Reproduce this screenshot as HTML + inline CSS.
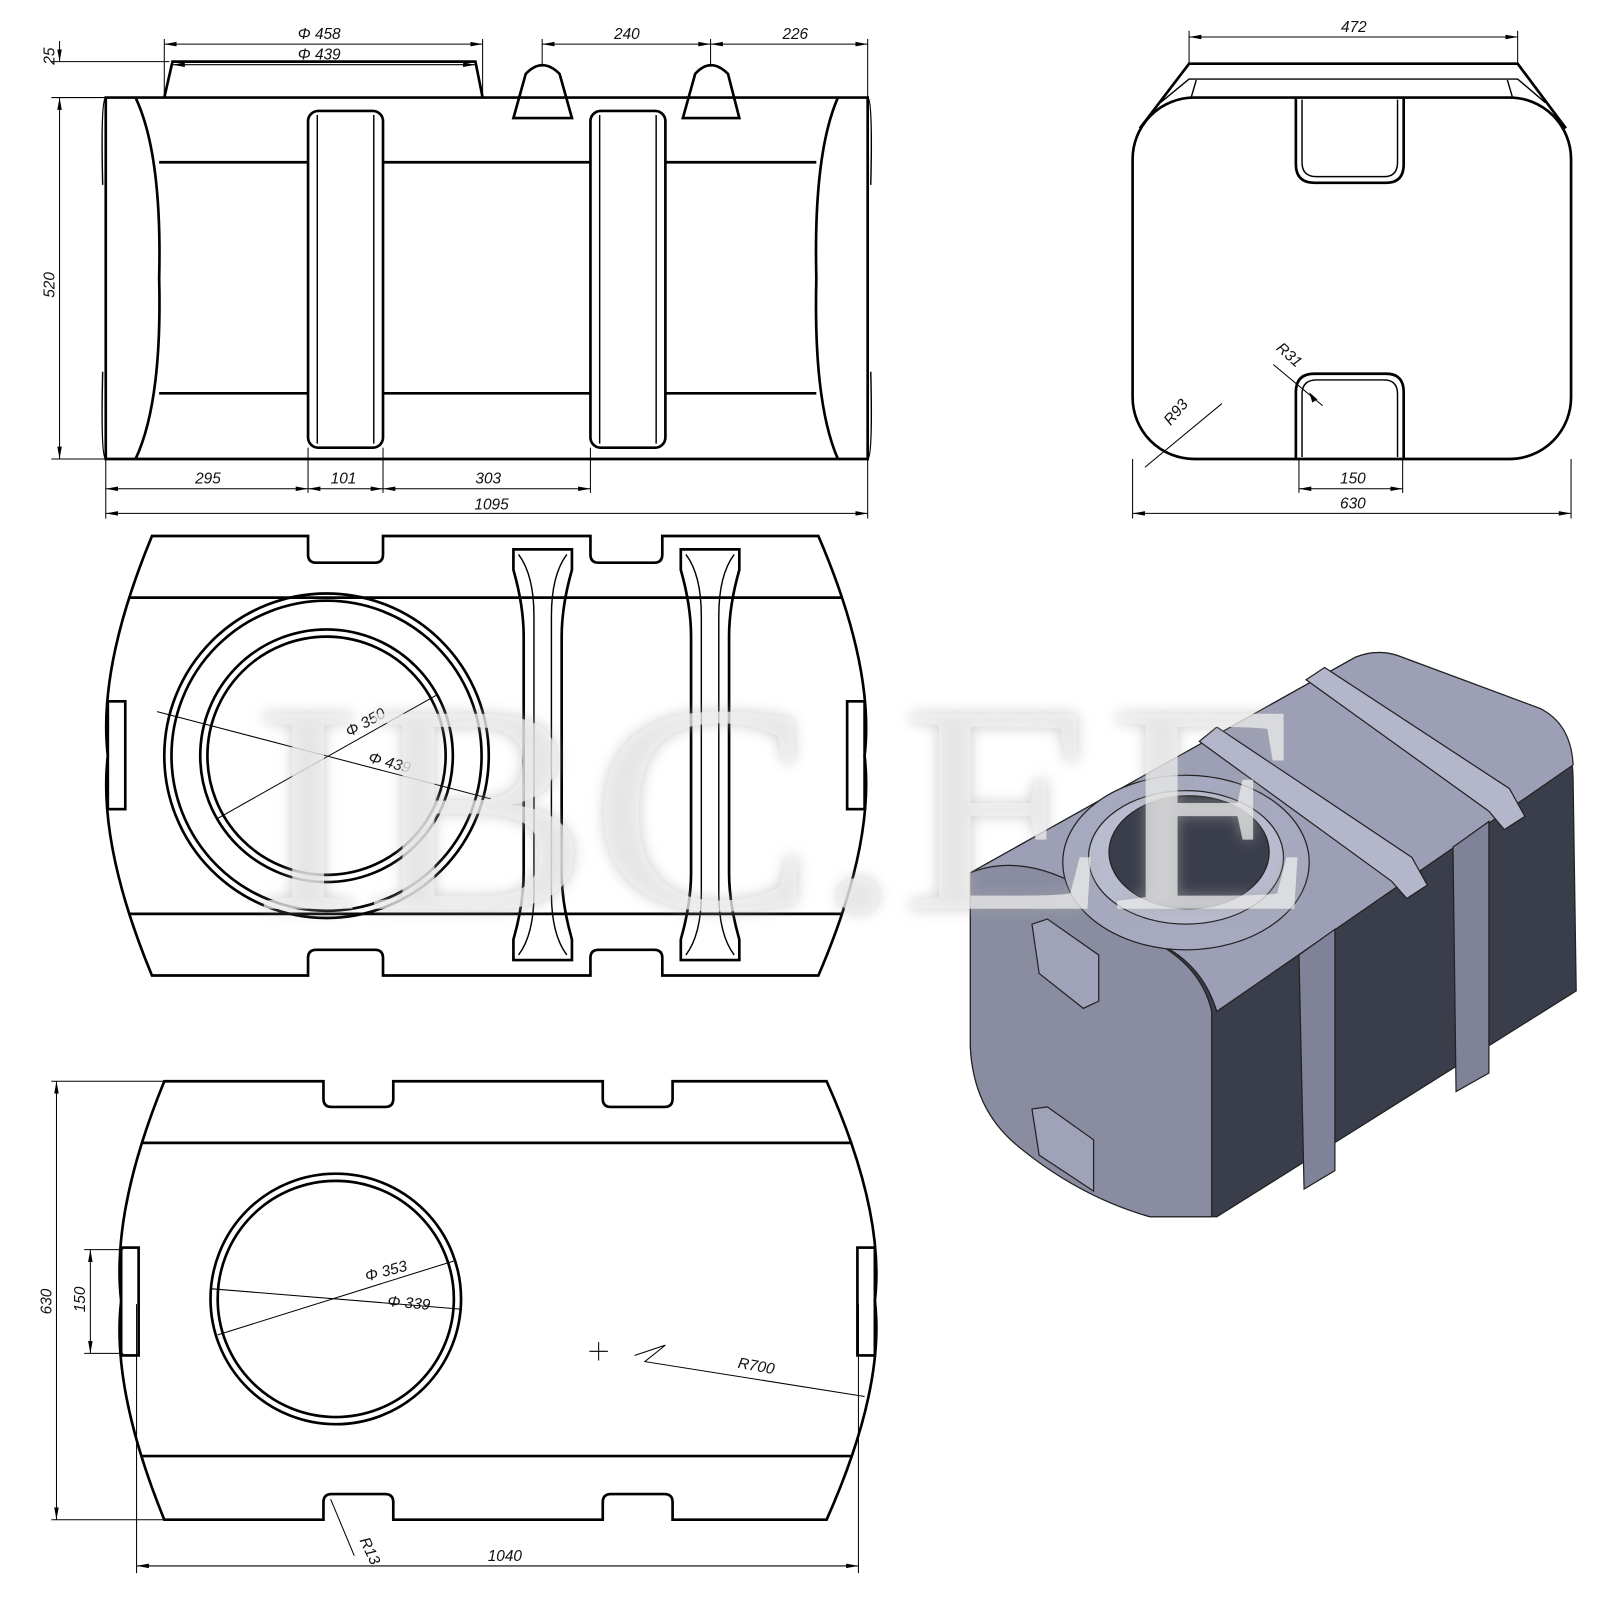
<!DOCTYPE html>
<html><head><meta charset="utf-8"><style>
html,body{margin:0;padding:0;background:#fff}
svg{display:block}
text{font-family:"Liberation Sans",sans-serif;font-style:italic;font-size:15px;fill:#111}
.o{fill:none;stroke:#000;stroke-width:2.6}
.t{fill:none;stroke:#000;stroke-width:1.4}
.d{fill:none;stroke:#000;stroke-width:1}
</style></head><body>
<svg width="1607" height="1607" viewBox="0 0 1565 1565" xmlns="http://www.w3.org/2000/svg">
<defs>
<marker id="a" markerWidth="12" markerHeight="6" refX="12" refY="3" orient="auto-start-reverse" markerUnits="userSpaceOnUse"><path d="M0,0.8 L12,3 L0,5.2z" fill="#000"/></marker>
<filter id="bl"><feGaussianBlur stdDeviation="7"/></filter>
</defs>

<!-- ========== SIDE VIEW ========== -->
<path class="o" d="M103,95 H845 V447 H103 Z"/>
<path class="o" d="M132,95 Q158,150 155,271 Q158,392 132,447"/>
<path class="o" d="M816,95 Q792,150 795,271 Q792,392 816,447"/>
<path class="t" d="M103,95 Q98,97 100,180 M100,362 Q98,445 103,447"/>
<path class="t" d="M845,95 Q850,97 848,180 M848,362 Q850,445 845,447"/>
<line class="o" x1="155" y1="158" x2="300" y2="158"/><line class="o" x1="373" y1="158" x2="575" y2="158"/><line class="o" x1="648" y1="158" x2="795" y2="158"/>
<line class="o" x1="155" y1="383" x2="300" y2="383"/><line class="o" x1="373" y1="383" x2="575" y2="383"/><line class="o" x1="648" y1="383" x2="795" y2="383"/>
<rect class="o" x="300" y="108" width="73" height="328" rx="10"/>
<line class="t" x1="309" y1="112" x2="309" y2="432"/><line class="t" x1="364" y1="112" x2="364" y2="432"/>
<rect class="o" x="575" y="108" width="73" height="328" rx="10"/>
<line class="t" x1="584" y1="112" x2="584" y2="432"/><line class="t" x1="639" y1="112" x2="639" y2="432"/>
<path class="o" d="M160,95 L168,60 H463 L470,95"/>
<path class="o" d="M500,115 L512,72 Q528,55 545,72 L557,115 Z"/>
<path class="o" d="M665,115 L677,72 Q692,55 709,72 L720,115 Z"/>
<line class="d" x1="160" y1="38" x2="160" y2="95"/><line class="d" x1="470" y1="38" x2="470" y2="95"/>
<line class="d" x1="160" y1="43" x2="470" y2="43" marker-start="url(#a)" marker-end="url(#a)"/>
<text x="290" y="38">Φ 458</text>
<line class="d" x1="168" y1="63" x2="463" y2="63" marker-start="url(#a)" marker-end="url(#a)"/>
<text x="290" y="58">Φ 439</text>
<line class="d" x1="528" y1="38" x2="528" y2="65"/><line class="d" x1="692" y1="38" x2="692" y2="65"/><line class="d" x1="845" y1="38" x2="845" y2="95"/>
<line class="d" x1="528" y1="43" x2="692" y2="43" marker-start="url(#a)" marker-end="url(#a)"/>
<line class="d" x1="692" y1="43" x2="845" y2="43" marker-start="url(#a)" marker-end="url(#a)"/>
<text x="598" y="38">240</text><text x="762" y="38">226</text>
<line class="d" x1="50" y1="60" x2="165" y2="60"/><line class="d" x1="50" y1="95" x2="103" y2="95"/><line class="d" x1="50" y1="447" x2="103" y2="447"/>
<line class="d" x1="58" y1="40" x2="58" y2="60" marker-end="url(#a)"/>
<line class="d" x1="58" y1="95" x2="58" y2="447" marker-start="url(#a)" marker-end="url(#a)"/>
<text transform="translate(53,63) rotate(-90)">25</text>
<text transform="translate(53,290) rotate(-90)">520</text>
<line class="d" x1="103" y1="447" x2="103" y2="505"/><line class="d" x1="300" y1="436" x2="300" y2="480"/><line class="d" x1="373" y1="436" x2="373" y2="480"/><line class="d" x1="575" y1="436" x2="575" y2="480"/><line class="d" x1="845" y1="447" x2="845" y2="505"/>
<line class="d" x1="103" y1="476" x2="300" y2="476" marker-start="url(#a)" marker-end="url(#a)"/>
<line class="d" x1="300" y1="476" x2="373" y2="476" marker-start="url(#a)" marker-end="url(#a)"/>
<line class="d" x1="373" y1="476" x2="575" y2="476" marker-start="url(#a)" marker-end="url(#a)"/>
<line class="d" x1="103" y1="500" x2="845" y2="500" marker-start="url(#a)" marker-end="url(#a)"/>
<text x="190" y="471">295</text><text x="322" y="471">101</text><text x="463" y="471">303</text><text x="462" y="496">1095</text>

<!-- ========== END VIEW ========== -->
<rect class="o" x="1103" y="95" width="427" height="352" rx="60"/>
<path class="o" d="M1110,125 L1158,62 H1478 L1525,125"/>
<path class="t" d="M1130,100 L1158,77 H1478 L1505,100"/>
<path class="t" d="M1160,95 L1165,78 M1473,95 L1468,78"/>
<path class="o" d="M1262,95 V160 Q1262,178 1280,178 H1350 Q1367,178 1367,160 V95"/>
<path class="t" d="M1268,97 V158 Q1268,172 1282,172 H1348 Q1361,172 1361,158 V97"/>
<path class="o" d="M1262,447 V382 Q1262,364 1280,364 H1350 Q1367,364 1367,382 V447"/>
<path class="t" d="M1268,445 V384 Q1268,370 1282,370 H1348 Q1361,370 1361,384 V445"/>
<line class="d" x1="1158" y1="30" x2="1158" y2="62"/><line class="d" x1="1478" y1="30" x2="1478" y2="62"/>
<line class="d" x1="1158" y1="36" x2="1478" y2="36" marker-start="url(#a)" marker-end="url(#a)"/>
<text x="1306" y="31">472</text>
<line class="d" x1="1103" y1="447" x2="1103" y2="505"/><line class="d" x1="1530" y1="447" x2="1530" y2="505"/>
<line class="d" x1="1103" y1="500" x2="1530" y2="500" marker-start="url(#a)" marker-end="url(#a)"/>
<text x="1305" y="495">630</text>
<line class="d" x1="1265" y1="447" x2="1265" y2="480"/><line class="d" x1="1366" y1="447" x2="1366" y2="480"/>
<line class="d" x1="1265" y1="476" x2="1366" y2="476" marker-start="url(#a)" marker-end="url(#a)"/>
<text x="1305" y="471">150</text>
<line class="d" x1="1240" y1="355" x2="1288" y2="395"/><path d="M1275,382 L1283,389 L1278,392z" fill="#000"/>
<text transform="translate(1242,340) rotate(42)">R31</text>
<line class="d" x1="1115" y1="455" x2="1190" y2="393"/>
<text transform="translate(1140,415) rotate(-50)">R93</text>

<!-- ========== TOP VIEW ========== -->
<path class="o" d="M148,522 H300 V540 Q300,548 308,548 H365 Q373,548 373,540 V522 H575 V540 Q575,548 583,548 H637 Q645,548 645,540 V522 H797 Q852,650 842,736 Q852,822 797,950 H645 V933 Q645,925 637,925 H583 Q575,925 575,933 V950 H373 V933 Q373,925 365,925 H308 Q300,925 300,933 V950 H148 Q95,822 105,736 Q95,650 148,522 Z"/>
<line class="o" x1="125" y1="582" x2="820" y2="582"/>
<line class="o" x1="125" y1="890" x2="820" y2="890"/>
<circle class="o" cx="318" cy="736" r="158" fill="#fff"/>
<circle class="o" cx="318" cy="736" r="151"/>
<circle class="o" cx="318" cy="736" r="123"/>
<circle class="o" cx="318" cy="736" r="116"/>
<rect class="o" x="105" y="683" width="17" height="105"/>
<rect class="o" x="825" y="683" width="17" height="105"/>
<path class="o" d="M500,535 H557 V555 Q547,590 547,620 V850 Q547,880 557,915 V935 H500 V915 Q510,880 510,850 V620 Q510,590 500,555 Z" fill="#fff"/>
<path class="t" d="M505,540 Q520,560 520,600 V870 Q520,910 505,930 M552,540 Q537,560 537,600 V870 Q537,910 552,930"/>
<path class="o" d="M663,535 H720 V555 Q710,590 710,620 V850 Q710,880 720,915 V935 H663 V915 Q673,880 673,850 V620 Q673,590 663,555 Z" fill="#fff"/>
<path class="t" d="M668,540 Q683,560 683,600 V870 Q683,910 668,930 M715,540 Q700,560 700,600 V870 Q700,910 715,930"/>
<line class="d" x1="153" y1="693" x2="478" y2="778"/>
<line class="d" x1="212" y1="797" x2="425" y2="677"/>
<text transform="translate(340,718) rotate(-29)">Φ 350</text>
<text transform="translate(358,742) rotate(15)">Φ 439</text>

<!-- ========== BOTTOM VIEW ========== -->
<path class="o" d="M160,1053 H315 V1070 Q315,1078 323,1078 H375 Q383,1078 383,1070 V1053 H587 V1070 Q587,1078 595,1078 H647 Q655,1078 655,1070 V1053 H805 Q862,1180 852,1267 Q862,1352 805,1480 H655 V1463 Q655,1455 647,1455 H595 Q587,1455 587,1463 V1480 H383 V1463 Q383,1455 375,1455 H323 Q315,1455 315,1463 V1480 H160 Q108,1352 118,1267 Q108,1180 160,1053 Z"/>
<line class="o" x1="138" y1="1113" x2="830" y2="1113"/>
<line class="o" x1="138" y1="1418" x2="830" y2="1418"/>
<circle class="o" cx="327" cy="1265" r="122"/>
<circle class="o" cx="327" cy="1265" r="115"/>
<rect class="o" x="118" y="1215" width="17" height="105"/>
<rect class="o" x="835" y="1215" width="17" height="105"/>
<line class="d" x1="205" y1="1255" x2="450" y2="1275"/>
<line class="d" x1="212" y1="1300" x2="442" y2="1228"/>
<text transform="translate(357,1248) rotate(-15)">Φ 353</text>
<text transform="translate(377,1272) rotate(5)">Φ 339</text>
<path class="d" d="M574,1316 H592 M583,1307 V1325 M618,1320 L648,1310 L628,1326 L842,1360"/>
<text transform="translate(718,1332) rotate(10)">R700</text>
<line class="d" x1="50" y1="1053" x2="160" y2="1053"/><line class="d" x1="50" y1="1480" x2="160" y2="1480"/>
<line class="d" x1="55" y1="1053" x2="55" y2="1480" marker-start="url(#a)" marker-end="url(#a)"/>
<text transform="translate(50,1280) rotate(-90)">630</text>
<line class="d" x1="82" y1="1217" x2="120" y2="1217"/><line class="d" x1="82" y1="1318" x2="120" y2="1318"/>
<line class="d" x1="88" y1="1217" x2="88" y2="1318" marker-start="url(#a)" marker-end="url(#a)"/>
<text transform="translate(83,1278) rotate(-90)">150</text>
<line class="d" x1="133" y1="1270" x2="133" y2="1532"/><line class="d" x1="836" y1="1270" x2="836" y2="1532"/>
<line class="d" x1="133" y1="1525" x2="836" y2="1525" marker-start="url(#a)" marker-end="url(#a)"/>
<text x="475" y="1520">1040</text>
<line class="d" x1="322" y1="1460" x2="345" y2="1515"/>
<text transform="translate(350,1500) rotate(65)">R13</text>

<!-- ========== 3D VIEW ========== -->
<g stroke="#222" stroke-width="1.2">
<path d="M945,850 L1320,640 Q1340,632 1360,638 L1500,690 Q1532,710 1532,760 L1535,965 L1185,1185 L1120,1185 Q1050,1165 990,1115 Q948,1080 945,1020 Z" fill="#3a3d4a"/>
<path d="M945,850 L1320,640 Q1340,632 1360,638 L1500,690 Q1530,705 1532,745 L1185,985 Q1170,935 1120,915 Z" fill="#9c9fb6"/>
<path d="M945,850 Q1020,820 1120,915 Q1170,940 1180,985 V1185 H1120 Q1050,1165 990,1115 Q948,1080 945,1020 Z" fill="#8a8da2"/>
<path d="M1265,930 L1300,905 V1140 L1270,1158 Z" fill="#7f8298"/>
<path d="M1415,825 L1450,800 V1045 L1418,1063 Z" fill="#7f8298"/>
<path d="M1168,722 L1185,708 L1375,835 L1390,862 L1370,875 L1355,858 Z" fill="#b4b7cc"/>
<path d="M1272,662 L1290,650 L1470,768 L1485,795 L1465,808 L1450,790 Z" fill="#b4b7cc"/>
<ellipse cx="1155" cy="840" rx="120" ry="85" fill="#a6a9bf"/>
<ellipse cx="1155" cy="835" rx="95" ry="65" fill="#b9bccf"/>
<ellipse cx="1158" cy="830" rx="78" ry="55" fill="#3a3d4a"/>
<path d="M1005,900 L1020,895 L1070,930 V975 L1055,982 L1012,948 Z" fill="#9fa2b8"/>
<path d="M1005,1080 L1020,1078 L1065,1110 V1160 L1012,1125 Z" fill="#9fa2b8"/>
</g>

<!-- ========== WATERMARK ========== -->
<text x="245" y="885" textLength="1035" lengthAdjust="spacingAndGlyphs" style="font-family:'Liberation Serif',serif;font-style:normal;font-size:290px;fill:#a8a8a8;opacity:0.6" filter="url(#bl)">IBC.EE</text>
<text x="245" y="885" textLength="1035" lengthAdjust="spacingAndGlyphs" style="font-family:'Liberation Serif',serif;font-style:normal;font-size:290px;fill:#f2f2f2;opacity:0.7">IBC.EE</text>
</svg>
</body></html>
